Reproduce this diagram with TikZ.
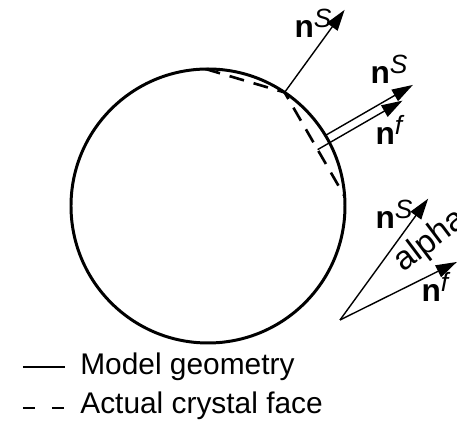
\documentclass[tikz,border=0pt]{standalone}
\usepackage{fontspec}
\setmainfont{Liberation Sans}
\usepackage{tikz}
\usetikzlibrary{calc,arrows.meta,positioning}

\newcommand{\nvec}[1]{\textbf{n}\raisebox{5.5pt}{\fontsize{15}{15}\selectfont\textit{#1}}}

\tikzset{
  normarrow/.style={line width=0.8pt, -{Triangle[length=0.42cm,width=0.26cm]}},
  facedash/.style={line width=1.5pt, dash pattern=on 0.3cm off 0.2cm},
  lbl/.style={font=\fontsize{17}{20}\selectfont, inner sep=0pt},
  nlbl/.style={font=\fontsize{18}{20}\selectfont, inner sep=0pt},
}

\begin{document}
\begin{tikzpicture}[line join=round]
\useasboundingbox (-4.16,-4.32) rectangle (4.98,4.12);

% ---------------------------------------------------------
% Key points
% ---------------------------------------------------------
\coordinate (O) at (0,0);                 % centre of model sphere
\coordinate (A) at (91:2.74);             % top corner of face
\coordinate (B) at (56:2.74);             % edge between faces
\coordinate (C) at (4:2.74);              % lower corner of face
\coordinate (D) at (31:2.74);             % foot of sphere normal
\coordinate (E) at ($(B)!0.55!(C)$);      % foot of face normal
\coordinate (P) at (2.64,-2.28);          % origin of angle sketch

% ---------------------------------------------------------
% Model geometry and actual face
% ---------------------------------------------------------
\draw[line width=1.7pt] (O) circle (2.74);
\draw[facedash] (A) -- (B) -- (C);

% ---------------------------------------------------------
% Normals
% ---------------------------------------------------------
\draw[normarrow] (B) -- ++(54:2.04) coordinate (nS1);
\draw[normarrow] (D) -- ++(30:2.02) coordinate (nS2);
\draw[normarrow] (E) -- ++(30:1.96) coordinate (nF2);

% angle between the two normals
\draw[normarrow] (P) -- ++(54:3.0) coordinate (nS3);
\draw[normarrow] (P) -- ++(26.4:2.61) coordinate (nF3);

% ---------------------------------------------------------
% Labels
% ---------------------------------------------------------
\node[nlbl] (lnS1) at (2.10,3.66) {\nvec{S}};
\node[nlbl] (lnS2) at (3.62,2.74) {\nvec{S}};
\node[nlbl] (lnF2) at (3.64,1.52) {\nvec{f}};
\node[nlbl] (lnS3) at (3.72,-0.16) {\nvec{S}};
\node[nlbl] (lnF3) at (4.56,-1.62) {\nvec{f}};
\node[lbl, font=\fontsize{19}{22}\selectfont, rotate=37, anchor=base west]
    (lalpha) at (3.90,-1.34) {alpha};

% ---------------------------------------------------------
% Legend
% ---------------------------------------------------------
\coordinate (L1) at (-3.70,-3.22);
\coordinate (L2) at (-3.70,-4.04);
\draw[line width=0.7pt] (L1) -- ++(0.84,0);
\draw[line width=0.7pt, dash pattern=on 0.24cm off 0.34cm] (L2) -- ++(0.82,0);
\node[lbl, anchor=base west] (lmodel) at (-2.56,-3.38) {Model geometry};
\node[lbl, anchor=base west] (lface) at (-2.56,-4.16) {Actual crystal face};

\end{tikzpicture}
\end{document}
